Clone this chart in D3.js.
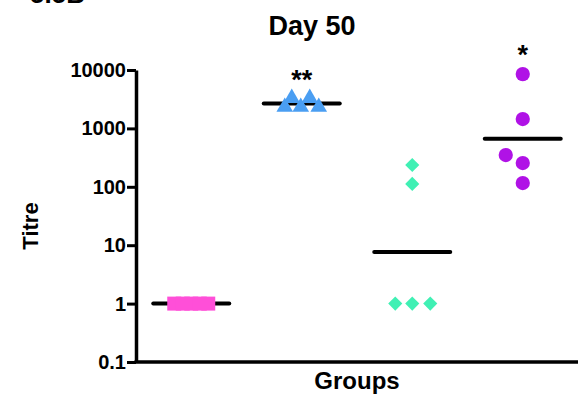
<!DOCTYPE html>
<html>
<head>
<meta charset="utf-8">
<script src="https://cdn.jsdelivr.net/npm/d3@7"></script>
<style>
  html, body { margin: 0; padding: 0; background: #fff; }
  svg { display: block; font-family: "Liberation Sans", Arial, sans-serif; }
</style>
</head>
<body>
<svg id="chart" width="579" height="396"></svg>
<script>
// ---- data ----
const categories = ["G1", "G2", "G3", "G4"];
const group1 = [1, 1, 1, 1, 1];
const group2 = [2320, 2320, 2320, 3300, 3300];
const group3 = [236, 112, 1, 1, 1];
const group4 = [8500, 1445, 350, 255, 116];
const yTicks = [0.1, 1, 10, 100, 1000, 10000];
const yTickLabels = ["0.1", "1", "10", "100", "1000", "10000"];
const significance = ["", "**", "", "*"];

// ---- presentation ----
const jitter = [
  [-17, -8.5, 0, 8.5, 17],
  [-17, -1, 17, -10, 8],
  [0, 0, -17, 0, 18],
  [0, 0, -17, 0, 0]
];
const colors = ["#FF4FD8", "#4A9EF2", "#40F0B4", "#B012E6"];
const groups = [group1, group2, group3, group4];

const svg = d3.select("#chart");
const mLeft = 136, mRight = 578, mTop = 70, mBottom = 362;

const x = d3.scaleBand().domain(categories).range([mLeft, mRight]);
const y = d3.scaleLog().domain([0.1, 10000]).range([mBottom, mTop]);

// cut-off panel label at the very top
svg.append("text").attr("x", 30).attr("y", 3)
  .attr("font-size", 26).attr("font-weight", "bold").text("5.5B");

// title
svg.append("text").attr("x", 312).attr("y", 35).attr("text-anchor", "middle")
  .attr("font-size", 27).attr("font-weight", "bold").text("Day 50");

// y axis
const yAxis = d3.axisLeft(y).tickValues(yTicks)
  .tickFormat((d, i) => yTickLabels[i]).tickSize(9).tickSizeOuter(0).tickPadding(1);
const gy = svg.append("g").attr("transform", `translate(${mLeft},0)`).call(yAxis);
gy.select(".domain").attr("stroke", "#000").attr("stroke-width", 3.5);
gy.selectAll(".tick line").attr("stroke", "#000").attr("stroke-width", 3);
gy.selectAll(".tick text").attr("font-size", 20).attr("font-weight", "bold")
  .attr("font-family", "'Liberation Sans', Arial, sans-serif").attr("fill", "#000");

// x axis
const xAxis = d3.axisBottom(x).tickSize(0).tickSizeOuter(0).tickFormat("");
const gx = svg.append("g").attr("transform", `translate(0,${mBottom})`).call(xAxis);
gx.select(".domain").attr("stroke", "#000").attr("stroke-width", 3.5)
  .attr("d", `M${mLeft - 1.5},0H${mRight}`);

// axis titles
svg.append("text").attr("x", 357).attr("y", 389).attr("text-anchor", "middle")
  .attr("font-size", 24).attr("font-weight", "bold").text("Groups");
svg.append("text").attr("transform", "translate(38,226) rotate(-90)")
  .attr("text-anchor", "middle").attr("font-size", 22).attr("font-weight", "bold").text("Titre");

// markers
const symbols = [
  d3.symbol().type(d3.symbolSquare).size(196),
  d3.symbol().type(d3.symbolTriangle).size(120),
  d3.symbol().type(d3.symbolSquare).size(100),
  d3.symbol().type(d3.symbolCircle).size(160)
];
const rot = [0, 0, 45, 0];

groups.forEach((vals, gi) => {
  const cx = x(categories[gi]) + x.bandwidth() / 2;
  const gm = Math.pow(10, d3.mean(vals, v => Math.log10(v)));
  const g = svg.append("g");
  g.append("line").attr("x1", cx - 38).attr("x2", cx + 38)
    .attr("y1", y(gm)).attr("y2", y(gm))
    .attr("stroke", "#000").attr("stroke-width", 4).attr("stroke-linecap", "round");
  g.selectAll("path").data(vals).join("path")
    .attr("d", symbols[gi])
    .attr("transform", (d, i) => `translate(${cx + jitter[gi][i]},${y(d)}) rotate(${rot[gi]})`)
    .attr("fill", colors[gi]);
  if (significance[gi]) {
    const ty = gi === 1 ? 89 : 64;
    svg.append("text").attr("x", cx).attr("y", ty).attr("text-anchor", "middle")
      .attr("font-size", 27).attr("font-weight", "bold").text(significance[gi]);
  }
});
</script>
</body>
</html>
